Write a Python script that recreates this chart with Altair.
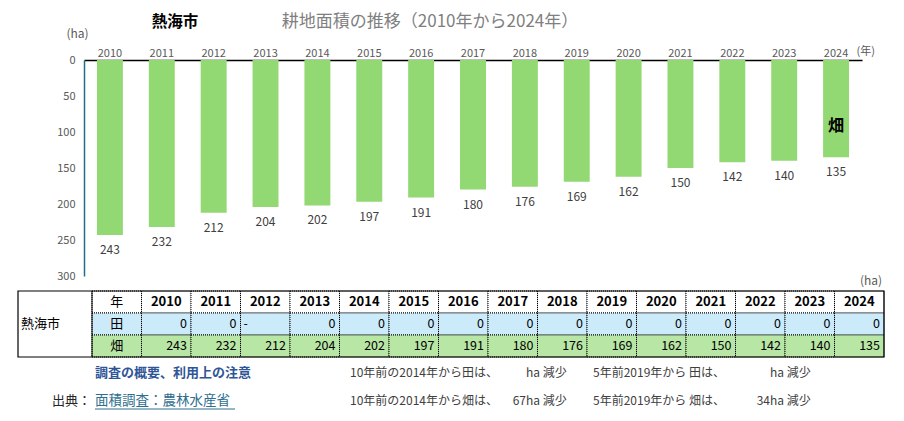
import altair as alt
import pandas as pd

# ---------------- data ----------------
years = [str(y) for y in range(2010, 2025)]
ta = [0, 0, None, 0, 0, 0, 0, 0, 0, 0, 0, 0, 0, 0, 0]          # 田 (None = "-")
hata = [243, 232, 212, 204, 202, 197, 191, 180, 176, 169, 162, 150, 142, 140, 135]  # 畑
y_ticks = [0, 50, 100, 150, 200, 250, 300]
rows = ["年", "田", "畑"]
cols = ["年"] + years

FONT = "Noto Sans CJK JP"
GRAY = "#595959"

bars_df = pd.DataFrame({"year": years, "value": hata})

# ---------------- bar chart ----------------
x_enc = alt.X(
    "year:O", sort=years,
    scale=alt.Scale(domain=years, paddingInner=0.5, paddingOuter=0.25),
    axis=alt.Axis(orient="top", title="(年)", titleX=772, titleY=-9, titleAlign="left",
                  titleBaseline="middle", titleAngle=0, titleFontWeight="normal",
                  titleFontSize=11, titleColor=GRAY, labelAngle=0, labelFontSize=11,
                  labelColor=GRAY, labelPadding=2, ticks=False, domainColor="black",
                  domainWidth=1.5),
)
y_enc = alt.Y(
    "value:Q",
    scale=alt.Scale(domain=[0, 300], reverse=True, nice=False),
    axis=alt.Axis(values=y_ticks, grid=False, ticks=False, domainColor="#1F6E8C",
                  domainWidth=1.5, labelColor=GRAY, labelFontSize=11, labelPadding=9,
                  title="(ha)", titleAngle=0, titleX=-7, titleY=-27, titleAlign="center",
                  titleBaseline="middle", titleFontWeight="normal", titleFontSize=12,
                  titleColor=GRAY),
)

bars = alt.Chart(bars_df).mark_bar(color="#92D873").encode(x=x_enc, y=y_enc)
bar_labels = alt.Chart(bars_df).mark_text(dy=15, fontSize=12, color="#404040",
                                          baseline="middle").encode(
    x=x_enc, y=y_enc, text="value:Q")
series_label = alt.Chart(bars_df).transform_filter(
    alt.datum.year == years[-1]).mark_text(
    text="畑", dy=-31, fontSize=16, fontWeight="bold", color="black",
    baseline="middle").encode(x=x_enc, y=y_enc)

chart_part = alt.layer(bars, bar_labels, series_label)

# ---------------- table ----------------
cells = pd.DataFrame([{"row": r, "col": c} for r in rows for c in cols])

recs = []
for c in years:
    recs.append({"row": "年", "col": c, "text": c, "kind": "header"})
for r in rows:
    recs.append({"row": r, "col": "年", "text": r, "kind": "rowlabel"})
for c, v in zip(years, ta):
    recs.append({"row": "田", "col": c, "text": "-" if v is None else str(v),
                 "kind": "dash" if v is None else "value"})
for c, v in zip(years, hata):
    recs.append({"row": "畑", "col": c, "text": str(v), "kind": "value"})
tab_df = pd.DataFrame(recs)

def tx(bp=None):
    kw = dict(sort=cols, axis=None,
              scale=alt.Scale(type="band", domain=cols, range=[8, 800],
                              paddingInner=0, paddingOuter=0))
    if bp is not None:
        kw["bandPosition"] = bp
    return alt.X("col:N", **kw)

def ty(bp=None):
    kw = dict(sort=rows, axis=None,
              scale=alt.Scale(type="band", domain=rows, range=[231, 297],
                              paddingInner=0, paddingOuter=0))
    if bp is not None:
        kw["bandPosition"] = bp
    return alt.Y("row:N", **kw)

cell_rects = alt.Chart(cells).mark_rect(stroke="black", strokeWidth=1,
                                        strokeDash=[1, 1]).encode(
    x=tx(), y=ty(),
    fill=alt.Fill("row:N", scale=alt.Scale(domain=rows,
                                           range=["#FFFFFF", "#CCEBFA", "#B8E6A4"]),
                  legend=None),
)
t_header = alt.Chart(tab_df).transform_filter(alt.datum.kind == "header").mark_text(
    fontSize=13, fontWeight="bold", color="black", baseline="middle", align="center").encode(
    x=tx(0.5), y=ty(0.5), text="text:N")
t_rowlab = alt.Chart(tab_df).transform_filter(alt.datum.kind == "rowlabel").mark_text(
    fontSize=13, color="black", baseline="middle", align="center").encode(
    x=tx(0.5), y=ty(0.5), text="text:N")
t_value = alt.Chart(tab_df).transform_filter(alt.datum.kind == "value").mark_text(
    fontSize=12.5, color="black", baseline="middle", align="right", dx=-4).encode(
    x=tx(1), y=ty(0.5), text="text:N")
t_dash = alt.Chart(tab_df).transform_filter(alt.datum.kind == "dash").mark_text(
    fontSize=12.5, color="black", baseline="middle", align="left", dx=3).encode(
    x=tx(0), y=ty(0.5), text="text:N")

table_part = alt.layer(cell_rects, t_header, t_rowlab, t_value, t_dash)

# ---------------- annotations ----------------
one = pd.DataFrame({"k": [0]})

def label(text, x, y, size=12, color="#404040", weight="normal", align="left"):
    return alt.Chart(one).mark_text(text=text, fontSize=size, color=color,
                                    fontWeight=weight, align=align,
                                    baseline="middle").encode(
        x=alt.value(x), y=alt.value(y))

frame = alt.Chart(one).mark_rect(fillOpacity=0, stroke="black", strokeWidth=1.2).encode(
    x=alt.value(-66), x2=alt.value(800), y=alt.value(231), y2=alt.value(297))
divider = alt.Chart(one).mark_rule(color="black", strokeWidth=1).encode(
    x=alt.value(8), y=alt.value(231), y2=alt.value(297))
underline = alt.Chart(one).mark_rule(color="#2E6E8E", strokeWidth=1).encode(
    x=alt.value(11), x2=alt.value(151), y=alt.value(349))

i2014, i2019 = years.index("2014"), years.index("2019")
d10 = hata[i2014] - hata[-1]
d5 = hata[i2019] - hata[-1]

ann = alt.layer(
    frame, divider, underline,
    label("耕地面積の推移（2010年から2024年）", 346, -38, size=17, color="#7F7F7F", align="center"),
    label("熱海市", 91, -38, size=15.5, color="black", weight="bold", align="center"),
    label("(ha)", 787, 221, size=12, color=GRAY, align="center"),
    label("熱海市", -63, 264, size=13, color="black"),
    label("調査の概要、利用上の注意", 11, 313, size=13, color="#2F5597", weight="bold"),
    label("出典：", -32, 341, size=13, color="#262626"),
    label("面積調査：農林水産省", 11, 341, size=13.5, color="#2E6E8E"),
    label("10年前の2014年から田は、", 266, 313),
    label("ha 減少", 442, 313),
    label("5年前2019年から 田は、", 509, 313),
    label("ha 減少", 686, 313),
    label("10年前の2014年から畑は、", 266, 341),
    label(str(d10), 442, 341, align="right"),
    label("ha 減少", 442, 341),
    label("5年前2019年から 畑は、", 509, 341),
    label(str(d5), 686, 341, align="right"),
    label("ha 減少", 686, 341),
)

chart = alt.layer(chart_part, table_part, ann).resolve_scale(
    x="independent", y="independent"
).properties(
    width=778, height=216,
    autosize=alt.AutoSizeParams(type="none"),
    padding={"left": 76, "top": 52, "right": 34, "bottom": 137},
).configure(font=FONT).configure_view(stroke=None)

chart.save("out.html", embed_options={"renderer": "svg", "actions": False})
